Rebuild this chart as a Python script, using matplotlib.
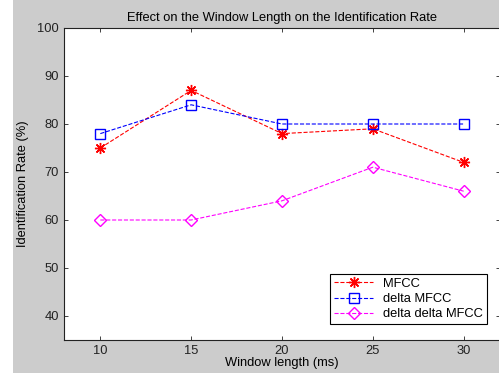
import matplotlib
matplotlib.use('Agg')
import matplotlib.pyplot as plt
from matplotlib.patches import Rectangle

# window length in ms
win_len = [10, 15, 20, 25, 30]
mfcc = [75, 87, 78, 79, 72]
delta_mfcc = [78, 84, 80, 80, 80]
delta_delta_mfcc = [60, 60, 64, 71, 66]

plt.rcParams['font.family'] = 'Liberation Sans'
plt.rcParams['font.size'] = 9.3

fig = plt.figure(figsize=(4.99, 3.73), dpi=100, facecolor='#cccccc')
# white strip on the left edge
fig.patches.append(Rectangle((0, 0), 13 / 499, 1, transform=fig.transFigure,
                             facecolor='white', edgecolor='none', zorder=-1))

ax = fig.add_axes([64 / 499, 33 / 373, 436 / 499, 312 / 373])
ax.plot(win_len, mfcc, 'r--', marker=(8, 2, 0), markersize=8, mew=1.0, lw=0.8, label='MFCC')
ax.plot(win_len, delta_mfcc, 'b--', marker='s', markersize=7, mfc='none', mew=1.0, lw=0.8, label='delta MFCC')
ax.plot(win_len, delta_delta_mfcc, '--', color='magenta', marker='D', markersize=6, mfc='none', mew=1.0, lw=0.8, label='delta delta MFCC')

ax.set_xlim(8, 32)
ax.set_ylim(35, 100)
ax.set_xticks(win_len)
ax.set_yticks(range(40, 101, 10))
ax.tick_params(direction='in', top=True, right=True, length=3, width=0.6, colors='#222222')
for s in ax.spines.values():
    s.set_linewidth(0.8)
    s.set_color('#222222')

ax.set_title('Effect on the Window Length on the Identification Rate', fontsize=9.3, pad=5)
ax.set_xlabel('Window length (ms)', labelpad=0)
ax.set_ylabel('Identification Rate (%)', labelpad=6)

leg = ax.legend(loc='lower right', bbox_to_anchor=(0.985, 0.03), fancybox=False,
                edgecolor='black', framealpha=1, borderpad=0.3, labelspacing=0.25,
                handlelength=3.0, fontsize=9.3)
leg.get_frame().set_linewidth(0.8)

fig.savefig('out.png', dpi=100, facecolor=fig.get_facecolor())
